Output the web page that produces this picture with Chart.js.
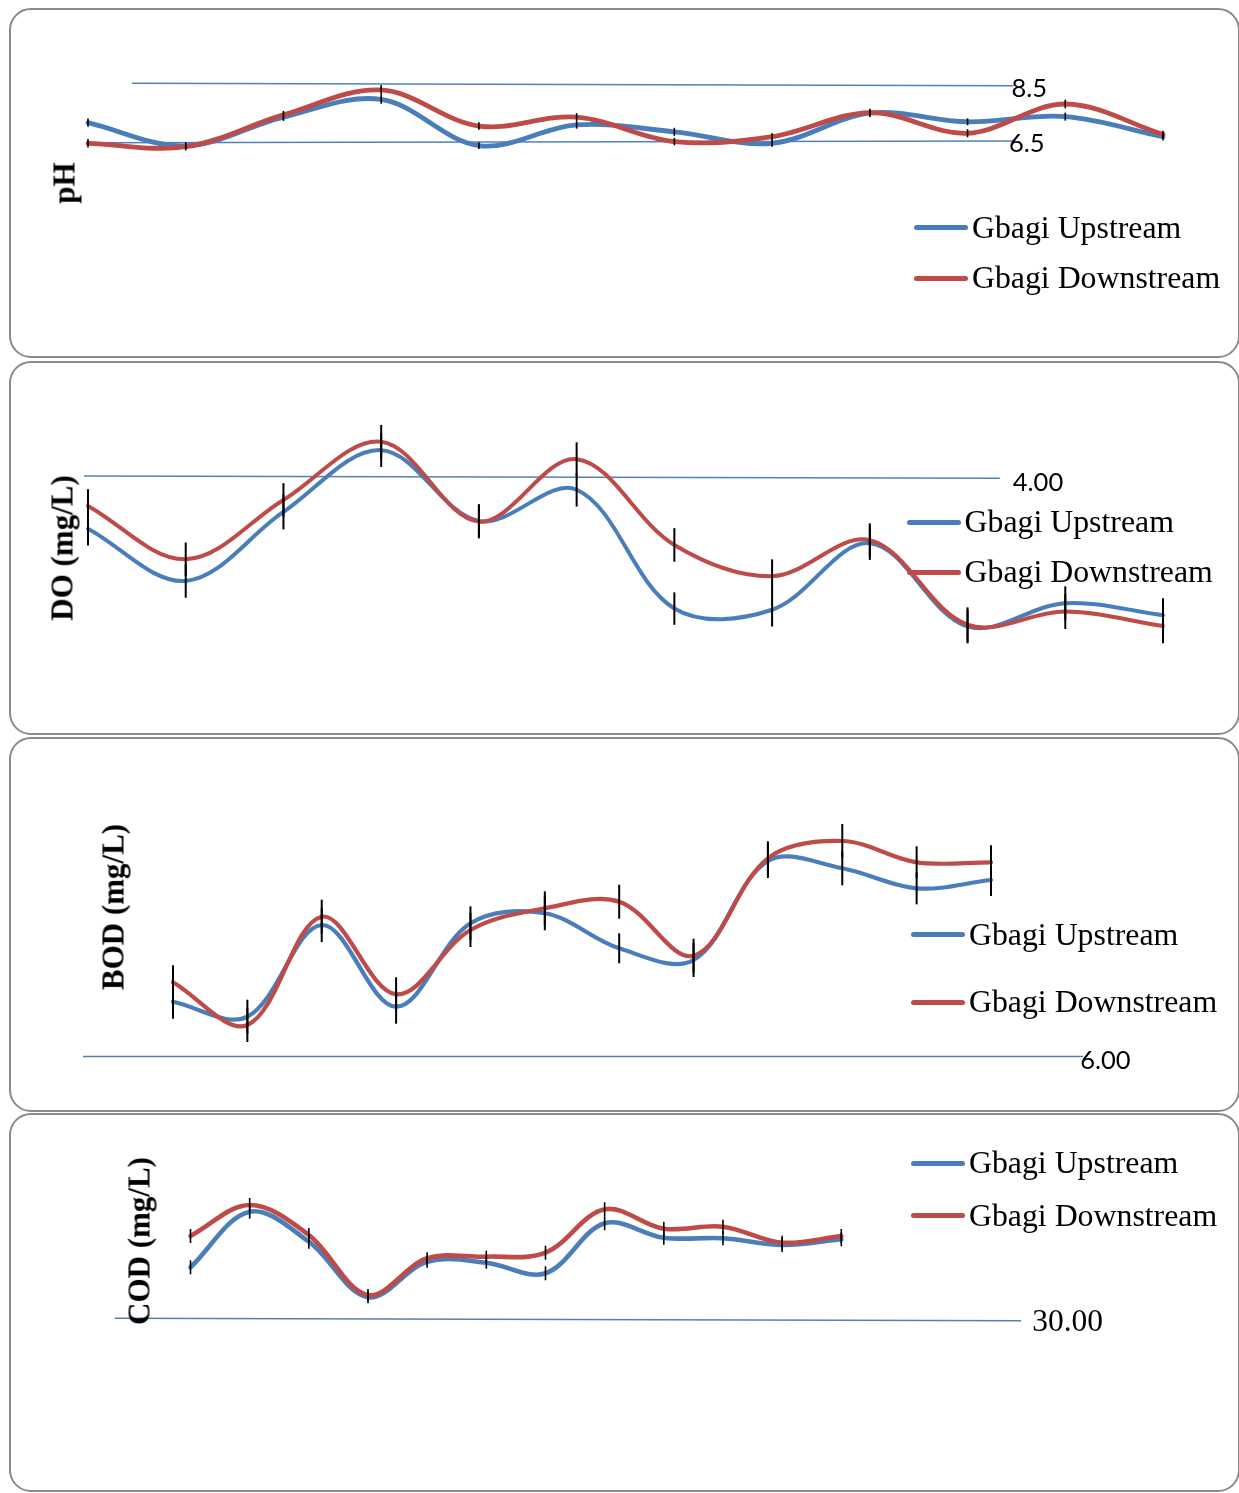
<!DOCTYPE html>
<html>
<head>
<meta charset="utf-8">
<script src="https://cdn.jsdelivr.net/npm/chart.js@4.4.1/dist/chart.umd.min.js"></script>
<style>
html,body{margin:0;padding:0;background:#fff;}
body{width:1239px;height:1493px;position:relative;overflow:hidden;}
.panel{position:absolute;left:9px;width:1231px;border:2px solid #8a8a8a;border-radius:22px;box-sizing:border-box;background:#fff;}
canvas.layer{position:absolute;left:0;top:0;}
.ytitle{position:absolute;font:bold 31px "Liberation Serif","Times New Roman",serif;white-space:nowrap;line-height:1;transform:translate(-50%,-50%) rotate(-90deg);color:#000;}
.legend-row{position:absolute;display:flex;align-items:center;transform:translateY(-50%);font:31.8px "Liberation Serif","Times New Roman",serif;line-height:1;white-space:nowrap;color:#000;}
.swatch{width:54px;height:5px;border-radius:3px;margin-right:4px;}
.reflabel{position:absolute;line-height:1;transform:translateY(-50%);white-space:nowrap;color:#000;}
.lato{font:25.5px Lato,"Open Sans",sans-serif;}
.serif{font:31.5px "Liberation Serif","Times New Roman",serif;}
</style>
</head>
<body>
<div class="panel" style="top:8px;height:350px;"></div>
<div class="panel" style="top:361px;height:374px;"></div>
<div class="panel" style="top:737px;height:375px;"></div>
<div class="panel" style="top:1113px;height:379px;"></div>

<canvas class="layer" id="cPH" width="1239" height="1493"></canvas>
<canvas class="layer" id="cDO" width="1239" height="1493"></canvas>
<canvas class="layer" id="cBOD" width="1239" height="1493"></canvas>
<canvas class="layer" id="cCOD" width="1239" height="1493"></canvas>

<div id="overlay"></div>

<script>
// ---------------- DATA ----------------
const samplingPoints = ['1','2','3','4','5','6','7','8','9','10','11','12'];
const seriesNames = ['Gbagi Upstream', 'Gbagi Downstream'];

// pH
const phUpstream   = [7.17, 6.36, 7.36, 7.98, 6.37, 7.09, 6.85, 6.45, 7.50, 7.20, 7.38, 6.68];
const phDownstream = [6.45, 6.33, 7.44, 8.31, 7.05, 7.36, 6.51, 6.68, 7.52, 6.80, 7.82, 6.76];
const phUpstreamErr   = [0.14, 0.12, 0.13, 0.15, 0.12, 0.13, 0.14, 0.12, 0.13, 0.12, 0.14, 0.13];
const phDownstreamErr = [0.15, 0.13, 0.14, 0.17, 0.13, 0.14, 0.13, 0.12, 0.13, 0.14, 0.15, 0.13];
const phUpperLineX = [0.45, 9.47];
const phUpperLineY = [8.54, 8.46];
const phLowerLineX = [0.07, 9.49];
const phLowerLineY = [6.47, 6.53];
const phLimitLabels = ['8.5', '6.5'];

// DO (mg/L)
const doUpstream   = [3.14, 2.27, 3.42, 4.45, 3.27, 3.79, 1.81, 1.79, 2.90, 1.51, 1.90, 1.70];
const doDownstream = [3.52, 2.63, 3.62, 4.59, 3.26, 4.30, 2.87, 2.35, 2.95, 1.54, 1.76, 1.52];
const doUpstreamErr   = [0.28, 0.28, 0.29, 0.28, 0.28, 0.28, 0.27, 0.28, 0.28, 0.28, 0.28, 0.28];
const doDownstreamErr = [0.28, 0.28, 0.28, 0.28, 0.28, 0.28, 0.28, 0.28, 0.28, 0.29, 0.29, 0.29];
const doLineX = [-0.04, 9.33];
const doLineY = [4.02, 3.98];
const doLimitLabel = '4.00';

// BOD (mg/L)
const bodUpstream   = [11.48, 9.98, 19.15, 10.98, 19.32, 20.32, 16.82, 15.65, 25.55, 24.82, 22.82, 23.65];
const bodDownstream = [13.42, 9.15, 19.98, 12.22, 18.65, 20.82, 21.48, 16.08, 25.82, 27.55, 25.42, 25.42];
const bodUpstreamErr   = [1.7, 1.7, 1.7, 1.7, 1.7, 1.7, 1.5, 1.7, 1.7, 1.7, 1.6, 1.6];
const bodDownstreamErr = [1.7, 1.7, 1.7, 1.7, 1.7, 1.7, 1.7, 1.7, 1.7, 1.7, 1.6, 1.7];
const bodLineX = [-1.21, 12.24];
const bodLineY = [6.00, 6.00];
const bodLimitLabel = '6.00';

// COD (mg/L)
const codUpstream   = [56.1, 83.9, 68.9, 41.1, 58.9, 58.4, 53.1, 78.1, 70.9, 70.6, 67.25, 70.1];
const codDownstream = [71.75, 87.25, 72.25, 42.25, 60.6, 61.4, 63.4, 85.1, 75.4, 76.4, 68.4, 71.75];
const codUpstreamErr   = [3.5, 3.5, 3.5, 3.0, 3.0, 3.0, 3.5, 3.5, 3.5, 3.5, 3.5, 3.5];
const codDownstreamErr = [3.5, 3.5, 3.5, 3.0, 3.0, 3.0, 3.5, 3.5, 3.5, 3.5, 3.5, 3.5];
const codLineX = [-1.28, 14.04];
const codLineY = [30.6, 29.4];
const codLimitLabel = '30.00';

// ---------------- STYLE / LAYOUT ----------------
const BLUE = '#4A7EBB';
const RED = '#BE4B48';
const REF = '#4F81BD';
const PAGE_W = 1239, PAGE_H = 1493;

const errorBarsPlugin = {
  id: 'errorBars',
  afterDatasetsDraw(chart) {
    const ctx = chart.ctx;
    const xs = chart.scales.x, ys = chart.scales.y;
    chart.data.datasets.forEach((ds) => {
      if (!ds.errors) return;
      ctx.save();
      ctx.strokeStyle = '#000';
      ctx.lineWidth = ds.errorWidth || 1.8;
      ds.data.forEach((p, i) => {
        const e = ds.errors[i];
        const px = xs.getPixelForValue(p.x);
        ctx.beginPath();
        ctx.moveTo(px, ys.getPixelForValue(p.y + e));
        ctx.lineTo(px, ys.getPixelForValue(p.y - e));
        ctx.stroke();
      });
      ctx.restore();
    });
  }
};

function pts(values) { return values.map((v, i) => ({x: i, y: v})); }
function seg(xs, ys) { return xs.map((x, i) => ({x: x, y: ys[i]})); }

function makeChart(id, cfg) {
  const n = samplingPoints.length - 1;
  const datasets = [
    {label: seriesNames[1], data: pts(cfg.down), errors: cfg.downErr, errorWidth: cfg.errW,
     borderColor: RED, borderWidth: cfg.lw, order: 1},
    {label: seriesNames[0], data: pts(cfg.up), errors: cfg.upErr, errorWidth: cfg.errW,
     borderColor: BLUE, borderWidth: cfg.lw, order: 2}
  ].map(d => Object.assign(d, {tension: 0.35, fill: false, clip: false, pointRadius: 0,
       borderCapStyle: 'round', borderJoinStyle: 'round'}));
  cfg.refs.forEach(r => datasets.push({
    label: 'limit', data: seg(r.x, r.y), borderColor: REF, borderWidth: 1.5,
    tension: 0, fill: false, clip: false, pointRadius: 0, order: 3
  }));
  return new Chart(document.getElementById(id), {
    type: 'line',
    data: {datasets},
    options: {
      responsive: false, maintainAspectRatio: false, animation: false, devicePixelRatio: 1,
      events: [],
      layout: {padding: {left: cfg.xPix[0], right: PAGE_W - cfg.xPix[1], top: cfg.yPix[1], bottom: PAGE_H - cfg.yPix[0]}},
      elements: {line: {capBezierPoints: false}, point: {radius: 0}},
      plugins: {legend: {display: false}, tooltip: {enabled: false}, title: {display: false}},
      scales: {
        x: {type: 'linear', min: 0, max: n, display: false},
        y: {type: 'linear', min: cfg.yRange[0], max: cfg.yRange[1], display: false}
      }
    },
    plugins: [errorBarsPlugin]
  });
}

const overlay = document.getElementById('overlay');
function addEl(cls, text, style) {
  const el = document.createElement('div');
  el.className = cls;
  el.textContent = text;
  Object.assign(el.style, style || {});
  overlay.appendChild(el);
  return el;
}
function addLegend(left, yUp, yDown) {
  [[seriesNames[0], BLUE, yUp], [seriesNames[1], RED, yDown]].forEach(([name, col, y]) => {
    const row = document.createElement('div');
    row.className = 'legend-row';
    row.style.left = left + 'px';
    row.style.top = y + 'px';
    const sw = document.createElement('span');
    sw.className = 'swatch';
    sw.style.background = col;
    const tx = document.createElement('span');
    tx.textContent = name;
    row.appendChild(sw); row.appendChild(tx);
    overlay.appendChild(row);
  });
}
function placeLabel(chart, text, cls, xv, yv, dx, dy) {
  const px = chart.scales.x.getPixelForValue(xv);
  const py = chart.scales.y.getPixelForValue(yv);
  addEl('reflabel ' + cls, text, {left: (px + dx) + 'px', top: (py + dy) + 'px'});
}

// pH panel
const chPH = makeChart('cPH', {
  up: phUpstream, down: phDownstream, upErr: phUpstreamErr, downErr: phDownstreamErr,
  lw: 4.8, errW: 1.6, xPix: [88, 1163], yRange: [6, 9], yPix: [156.19, 70.15],
  refs: [{x: phUpperLineX, y: phUpperLineY}, {x: phLowerLineX, y: phLowerLineY}]
});
placeLabel(chPH, phLimitLabels[0], 'lato', phUpperLineX[1], phUpperLineY[1], -2, 1);
placeLabel(chPH, phLimitLabels[1], 'lato', phLowerLineX[1], phLowerLineY[1], -6.5, 0.7);
addEl('ytitle', 'pH', {left: '64px', top: '183px'});
addLegend(914, 227.7, 278.3);

// DO panel
const chDO = makeChart('cDO', {
  up: doUpstream, down: doDownstream, upErr: doUpstreamErr, downErr: doDownstreamErr,
  lw: 4, errW: 2, xPix: [88, 1163], yRange: [1, 5], yPix: [657.15, 417.15],
  refs: [{x: doLineX, y: doLineY}]
});
placeLabel(chDO, doLimitLabel, 'lato', doLineX[1], doLineY[1], 13, 2.7);
addEl('ytitle', 'DO (mg/L)', {left: '62px', top: '548px'});
addLegend(906.6, 522.3, 572.3);

// BOD panel
const chBOD = makeChart('cBOD', {
  up: bodUpstream, down: bodDownstream, upErr: bodUpstreamErr, downErr: bodDownstreamErr,
  lw: 4.2, errW: 2, xPix: [173, 991], yRange: [5, 30], yPix: [1066.5, 816.5],
  refs: [{x: bodLineX, y: bodLineY}]
});
placeLabel(chBOD, bodLimitLabel, 'lato', bodLineX[1], bodLineY[1], -3, 2.5);
addEl('ytitle', 'BOD (mg/L)', {left: '113px', top: '907px'});
addLegend(911, 935, 1002.3);

// COD panel
const chCOD = makeChart('cCOD', {
  up: codUpstream, down: codDownstream, upErr: codUpstreamErr, downErr: codDownstreamErr,
  lw: 4.6, errW: 1.6, xPix: [190.5, 841.3], yRange: [25, 95], yPix: [1329.5, 1189.5],
  refs: [{x: codLineX, y: codLineY}]
});
placeLabel(chCOD, codLimitLabel, 'serif', codLineX[1], codLineY[1], 11, 0.5);
addEl('ytitle', 'COD (mg/L)', {left: '138.5px', top: '1240.5px'});
addLegend(911, 1163.3, 1216);
</script>
</body>
</html>
